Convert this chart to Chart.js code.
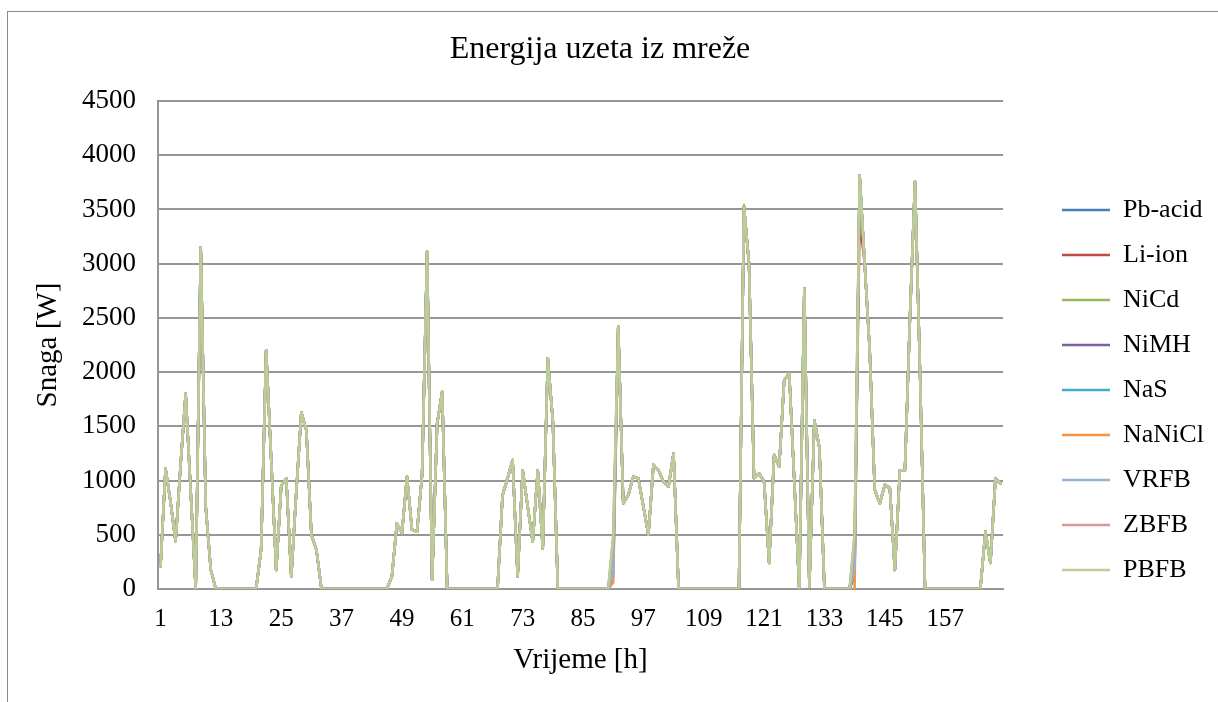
<!DOCTYPE html>
<html><head><meta charset="utf-8">
<script src="https://cdn.jsdelivr.net/npm/chart.js@4.4.0/dist/chart.umd.min.js"></script>
<style>
html,body{margin:0;padding:0;background:#fff;overflow:hidden;width:1218px;height:702px;}
#frame{position:absolute;left:7px;top:11px;width:1300px;height:800px;border:1px solid #8a8a8a;box-sizing:border-box;}
#c{position:absolute;left:0;top:0;}
</style></head><body>
<div id="frame"></div>
<canvas id="c" width="1218" height="702"></canvas>
<script>
const hours = Array.from({length: 168}, (_, i) => String(i + 1));
const xTickLabels = ['1','13','25','37','49','61','73','85','97','109','121','133','145','157'];
const yTicks = [0,500,1000,1500,2000,2500,3000,3500,4000,4500];
const seriesNames = ['Pb-acid','Li-ion','NiCd','NiMH','NaS','NaNiCl','VRFB','ZBFB','PBFB'];
const seriesColors = ['#4A7EBB','#BE4B48','#98B954','#7D60A0','#46AAC5','#F69240','#95B3D7','#D99694','#BACF98'];

const pbAcid = [210,1110,800,440,1150,1800,900,0,3150,750,175,0, 0,0,0,0,0,0,0,0,360,2200,1200,175, 950,1020,115,900,1630,1460,500,360,0,0,0,0, 0,0,0,0,0,0,0,0,0,0,115,605, 515,1035,545,530,1050,3110,85,1525,1820,0,0,0, 0,0,0,0,0,0,0,0,865,1020,1190,115, 1095,760,435,1095,375,2125,1550,0,0,0,0,0, 0,0,0,0,0,0,120,2420,790,865,1035,1020, 760,500,1145,1095,990,945,1250,0,0,0,0,0, 0,0,0,0,0,0,0,0,3525,3000,1020,1065, 990,240,1235,1130,1925,1990,1000,0,2770,20,1555,1300, 0,0,0,0,0,0,120,3815,3000,2200,915,790, 960,930,175,1095,1095,2500,3755,2000,0,0,0,0, 0,0,0,0,0,0,0,0,530,240,1020,975];
const liIon = [210,1110,800,440,1150,1800,900,0,3150,750,175,0, 0,0,0,0,0,0,0,0,360,2200,1200,175, 950,1020,115,900,1630,1460,500,360,0,0,0,0, 0,0,0,0,0,0,0,0,0,0,115,605, 515,1035,545,530,1050,3110,85,1525,1820,0,0,0, 0,0,0,0,0,0,0,0,865,1020,1190,115, 1095,760,435,1095,375,2125,1550,0,0,0,0,0, 0,0,0,0,0,0,300,2420,790,865,1035,1020, 760,500,1145,1095,990,945,1250,0,0,0,0,0, 0,0,0,0,0,0,0,0,3525,3000,1020,1065, 990,240,1235,1130,1925,1990,1000,0,2770,20,1555,1300, 0,0,0,0,0,0,400,3400,3000,2200,915,790, 960,930,175,1095,1095,2500,3755,2000,0,0,0,0, 0,0,0,0,0,0,0,0,530,240,1020,975];
const niCd = [210,1110,800,440,1150,1800,900,0,3150,750,175,0, 0,0,0,0,0,0,0,0,360,2200,1200,175, 950,1020,115,900,1630,1460,500,360,0,0,0,0, 0,0,0,0,0,0,0,0,0,0,115,605, 515,1035,545,530,1050,3110,85,1525,1820,0,0,0, 0,0,0,0,0,0,0,0,865,1020,1190,115, 1095,760,435,1095,375,2125,1550,0,0,0,0,0, 0,0,0,0,0,0,480,2420,790,865,1035,1020, 760,500,1145,1095,990,945,1250,0,0,0,0,0, 0,0,0,0,0,0,0,0,3540,3000,1020,1065, 990,240,1235,1130,1925,1990,1000,0,2770,20,1555,1300, 0,0,0,0,0,0,500,3815,3000,2200,915,790, 960,930,175,1095,1095,2500,3755,2000,0,0,0,0, 0,0,0,0,0,0,0,0,530,240,1020,975];
const niMH = [210,1110,800,440,1150,1800,900,0,3150,750,175,0, 0,0,0,0,0,0,0,0,360,2200,1200,175, 950,1020,115,900,1630,1460,500,360,0,0,0,0, 0,0,0,0,0,0,0,0,0,0,115,605, 515,1035,545,530,1050,3110,85,1525,1820,0,0,0, 0,0,0,0,0,0,0,0,865,1020,1190,115, 1095,760,435,1095,375,2125,1550,0,0,0,0,0, 0,0,0,0,0,0,200,2420,790,865,1035,1020, 760,500,1145,1095,990,945,1250,0,0,0,0,0, 0,0,0,0,0,0,0,0,3525,3000,1020,1065, 990,240,1235,1130,1925,1990,1000,0,2770,20,1555,1300, 0,0,0,0,0,0,200,3815,3000,2200,915,790, 960,930,175,1095,1095,2500,3755,2000,0,0,0,0, 0,0,0,0,0,0,0,0,530,240,1020,975];
const naS = [210,1110,800,440,1150,1800,900,0,3150,750,175,0, 0,0,0,0,0,0,0,0,360,2200,1200,175, 950,1020,115,900,1630,1460,500,360,0,0,0,0, 0,0,0,0,0,0,0,0,0,0,115,605, 515,1035,545,530,1050,3110,85,1525,1820,0,0,0, 0,0,0,0,0,0,0,0,865,1020,1190,115, 1095,760,435,1095,375,2125,1550,0,0,0,0,0, 0,0,0,0,0,0,250,2420,790,865,1035,1020, 760,500,1145,1095,990,945,1250,0,0,0,0,0, 0,0,0,0,0,0,0,0,3525,3000,1020,1065, 990,240,1235,1130,1925,1990,1000,0,2770,20,1555,1300, 0,0,0,0,0,0,150,3815,3000,2200,915,790, 960,930,175,1095,1095,2500,3755,2000,0,0,0,0, 0,0,0,0,0,0,0,0,530,240,1020,975];
const naNiCl = [210,1110,800,440,1150,1800,900,0,3150,750,175,0, 0,0,0,0,0,0,0,0,360,2200,1200,175, 950,1020,115,900,1630,1460,500,360,0,0,0,0, 0,0,0,0,0,0,0,0,0,0,115,605, 515,1035,545,530,1050,3110,85,1525,1820,0,0,0, 0,0,0,0,0,0,0,0,865,1020,1190,115, 1095,760,435,1095,375,2125,1550,0,0,0,0,0, 0,0,0,0,0,0,60,2420,790,865,1035,1020, 760,500,1145,1095,990,945,1250,0,0,0,0,0, 0,0,0,0,0,0,0,0,3525,3000,1020,1065, 990,240,1235,1130,1925,1990,1000,0,2770,20,1555,1300, 0,0,0,0,0,0,0,3815,3000,2200,915,790, 960,930,175,1095,1095,2500,3755,2000,0,0,0,0, 0,0,0,0,0,0,0,0,530,240,1020,975];
const vrfb = [210,1110,800,440,1150,1800,900,0,3150,750,175,0, 0,0,0,0,0,0,0,0,360,2200,1200,175, 950,1020,115,900,1630,1460,500,360,0,0,0,0, 0,0,0,0,0,0,0,0,0,0,115,605, 515,1035,545,530,1050,3110,85,1525,1820,0,0,0, 0,0,0,0,0,0,0,0,865,1020,1190,115, 1095,760,435,1095,375,2125,1550,0,0,0,0,0, 0,0,0,0,0,0,150,2420,790,865,1035,1020, 760,500,1145,1095,990,945,1250,0,0,0,0,0, 0,0,0,0,0,0,0,0,3525,3000,1020,1065, 990,240,1235,1130,1925,1990,1000,0,2770,20,1555,1300, 0,0,0,0,0,0,200,3815,3000,2200,915,790, 960,930,175,1095,1095,2500,3755,2000,0,0,0,0, 0,0,0,0,0,0,0,0,530,240,1020,975];
const zbfb = [210,1110,800,440,1150,1800,900,0,3150,750,175,0, 0,0,0,0,0,0,0,0,360,2200,1200,175, 950,1020,115,900,1630,1460,500,360,0,0,0,0, 0,0,0,0,0,0,0,0,0,0,115,605, 515,1035,545,530,1050,3110,85,1525,1820,0,0,0, 0,0,0,0,0,0,0,0,865,1020,1190,115, 1095,760,435,1095,375,2125,1550,0,0,0,0,0, 0,0,0,0,0,0,380,2420,790,865,1035,1020, 760,500,1145,1095,990,945,1250,0,0,0,0,0, 0,0,0,0,0,0,0,0,3525,3000,1020,1065, 990,240,1235,1130,1925,1990,1000,0,2770,20,1555,1300, 0,0,0,0,0,0,450,3815,3000,2200,915,790, 960,930,175,1095,1095,2500,3755,2000,0,0,0,0, 0,0,0,0,0,0,0,0,530,240,1020,975];
const pbfb = [210,1110,800,440,1150,1800,900,0,3150,750,175,0, 0,0,0,0,0,0,0,0,360,2200,1200,175, 950,1020,115,900,1630,1460,500,360,0,0,0,0, 0,0,0,0,0,0,0,0,0,0,115,605, 515,1035,545,530,1050,3110,85,1525,1820,0,0,0, 0,0,0,0,0,0,0,0,865,1020,1190,115, 1095,760,435,1095,375,2125,1550,0,0,0,0,0, 0,0,0,0,0,0,500,2420,790,865,1035,1020, 760,500,1145,1095,990,945,1250,0,0,0,0,0, 0,0,0,0,0,0,0,0,3525,3000,1020,1065, 990,240,1235,1130,1925,1990,1000,0,2770,20,1555,1300, 0,0,0,0,0,0,515,3815,3000,2200,915,790, 960,930,175,1095,1095,2500,3755,2000,0,0,0,0, 0,0,0,0,0,0,0,0,530,240,1020,975];

const seriesValues = [pbAcid, liIon, niCd, niMH, naS, naNiCl, vrfb, zbfb, pbfb];

const FONT = "'Liberation Serif', 'Times New Roman', serif";
const GRID = '#969696';

const datasets = seriesNames.map((name, i) => ({
  label: name,
  data: seriesValues[i],
  borderColor: seriesColors[i],
  backgroundColor: seriesColors[i],
  pointBorderColor: seriesColors[i],
  pointBackgroundColor: seriesColors[i],
  borderWidth: 2.5,
  pointBorderWidth: 2.5,
  pointRadius: 0,
  pointHoverRadius: 0,
  pointStyle: 'line',
  tension: 0,
  borderJoinStyle: 'round',
  borderCapStyle: 'round',
  fill: false,
  order: seriesNames.length - 1 - i
}));

// place the legend column: lines start at x=1062, first row centred at y=210
const legendPlace = {
  id: 'legendPlace',
  afterLayout(chart) {
    const l = chart.legend;
    if (!l) return;
    l.top += 45; l.bottom += 45;
    l.left = 1043; l.right = 1218; l.width = l.right - l.left;
  }
};

new Chart(document.getElementById('c'), {
  type: 'line',
  data: { labels: hours, datasets },
  plugins: [legendPlace],
  options: {
    responsive: false,
    devicePixelRatio: 1,
    animation: false,
    events: [],
    layout: { padding: { left: -18, right: 0, top: 0, bottom: 0 } },
    plugins: {
      title: {
        display: true,
        text: 'Energija uzeta iz mreže',
        color: '#000',
        font: { family: FONT, size: 32, weight: 'normal' },
        padding: { top: 30.7, bottom: 31.9 }
      },
      legend: {
        display: true,
        position: 'right',
        align: 'center',
        fullSize: false,
        reverse: true,
        maxWidth: 160,
        labels: {
          usePointStyle: true,
          pointStyle: 'line',
          pointStyleWidth: 48,
          padding: 19,
          color: '#000',
          font: { family: FONT, size: 26 }
        }
      },
      tooltip: { enabled: false }
    },
    scales: {
      x: {
        type: 'category',
        offset: true,
        grid: { display: false, drawTicks: false },
        border: { display: true, color: GRID, width: 2 },
        ticks: {
          autoSkip: false,
          maxRotation: 0,
          minRotation: 0,
          padding: 15.6,
          color: '#000',
          font: { family: FONT, size: 25 },
          callback: function(value) {
            const lab = this.getLabelForValue(value);
            return xTickLabels.includes(lab) ? lab : '';
          }
        },
        title: {
          display: true,
          text: 'Vrijeme [h]',
          color: '#000',
          font: { family: FONT, size: 29 },
          padding: { top: 0, bottom: 24.4 }
        },
        afterFit: s => { s.height = 113; }
      },
      y: {
        type: 'linear',
        position: 'left',
        min: 0,
        max: 4500,
        grid: { display: true, color: GRID, lineWidth: 2, drawTicks: false },
        border: { display: true, color: GRID, width: 2 },
        ticks: {
          stepSize: 500,
          padding: 22,
          color: '#000',
          font: { family: FONT, size: 27 },
          callback: v => yTicks.includes(v) ? String(v) : ''
        },
        title: {
          display: true,
          text: 'Snaga [W]',
          color: '#000',
          font: { family: FONT, size: 29 },
          padding: { top: 49, bottom: 0 }
        },
        afterFit: s => { s.width = 176; }
      },
      yRight: {
        type: 'linear',
        position: 'right',
        display: true,
        grid: { display: false, drawTicks: false },
        border: { display: false },
        ticks: { display: false },
        afterFit: s => { s.width = 55; }
      }
    }
  }
});
</script>
</body></html>
